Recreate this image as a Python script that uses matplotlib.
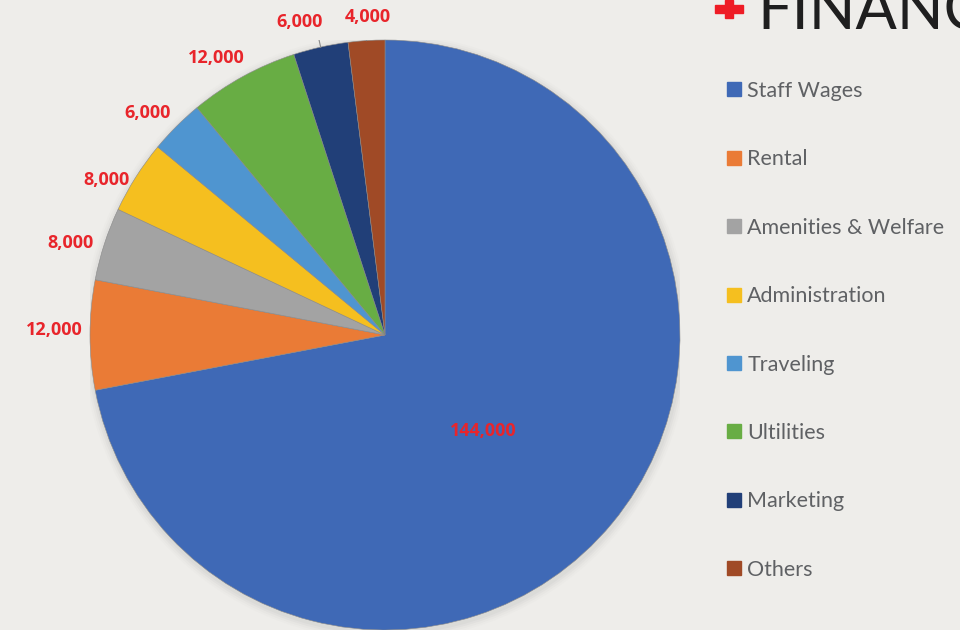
import numpy as np
import matplotlib
matplotlib.use("Agg")
import matplotlib.pyplot as plt
from matplotlib.lines import Line2D
from matplotlib.patches import Rectangle, Circle

categories = ["Staff Wages", "Rental", "Amenities & Welfare", "Administration",
              "Traveling", "Ultilities", "Marketing", "Others"]
values = [144000, 12000, 8000, 8000, 6000, 12000, 6000, 4000]
colors = ["#3F69B6", "#EA7B36", "#A3A3A3", "#F5BF1F", "#4F95D0",
          "#68AD44", "#213F78", "#A04A26"]
title = "FINANCE"

# label placement (layout only): angular nudge in degrees and radius factor
label_nudge = [-4.8, -0.9, 1.7, 3.3, 1.9, 2.6, 2.6, -0.5]
label_radius = [0.465, 1.12, 1.11, 1.08, 1.10, 1.10, 1.10, 1.08]
leader = [False, False, False, False, False, False, True, True]

plt.rcParams['font.family'] = ['Lato', 'DejaVu Sans']
bg = "#EEEDEA"
fig = plt.figure(figsize=(9.6, 6.3), dpi=100, facecolor=bg)

R = 295
cx, cy = 385, 335
ax = fig.add_axes([(cx - R) / 960, (630 - cy - R) / 630, 2 * R / 960, 2 * R / 630])
ax.set_facecolor("none")
ax.axis("off")

# soft shadow
for i, a in enumerate([0.06, 0.045, 0.03, 0.02]):
    ax.add_patch(Circle((0.003, -0.008), 1.0 + 0.007 * (i + 1),
                        color="#777777", alpha=a, lw=0, zorder=0))

wedges, _ = ax.pie(values, colors=colors, startangle=90, counterclock=False,
                   radius=1.0, wedgeprops=dict(edgecolor="#8a8a8a", linewidth=0.4))
ax.set_xlim(-1, 1)
ax.set_ylim(-1, 1)
ax.set_aspect("equal")

red = "#E8252B"
lab_font = ["Open Sans", "DejaVu Sans"]

for i, (w, v) in enumerate(zip(wedges, values)):
    mid_deg = (w.theta1 + w.theta2) / 2
    mid = np.deg2rad(mid_deg)
    ang = np.deg2rad(mid_deg + label_nudge[i])
    d = label_radius[i]
    x, y = d * np.cos(ang), d * np.sin(ang)
    if leader[i]:
        x0, y0 = 1.0 * np.cos(mid), 1.0 * np.sin(mid)
        x1, y1 = 1.037 * np.cos(mid), 1.037 * np.sin(mid)
        ax.plot([x0, x1], [y0, y1], color="#8a8a8a", lw=0.8)
    ax.text(x, y, f"{v:,}", color=red, fontsize=13, fontweight="bold",
            ha="center", va="center", family=lab_font)

# legend
handles = [Line2D([0], [0], marker="s", linestyle="none", markersize=10,
                  markerfacecolor=c, markeredgecolor=c) for c in colors]
leg = fig.legend(handles, categories, loc="upper left",
                 bbox_to_anchor=(715 / 960, 1 - 70 / 630), frameon=False,
                 fontsize=15.5, labelspacing=2.25, handlelength=0.8,
                 handletextpad=0.2, borderpad=0)
for t in leg.get_texts():
    t.set_color("#5F6164")

# title with red cross
fig.text(757 / 960, 1 - 30 / 630, title, fontsize=44, color="#1f1f1f",
         fontweight="normal", ha="left", va="baseline",
         family=["Lato", "DejaVu Sans"])
fig.patches.append(Rectangle((715 / 960, 1 - 13 / 630), 28 / 960, 8 / 630,
                             transform=fig.transFigure, color="#EE1C25"))
fig.patches.append(Rectangle((725 / 960, 1 - 18 / 630), 8 / 960, 18 / 630,
                             transform=fig.transFigure, color="#EE1C25"))

fig.savefig("out.png", dpi=100, facecolor=bg)
